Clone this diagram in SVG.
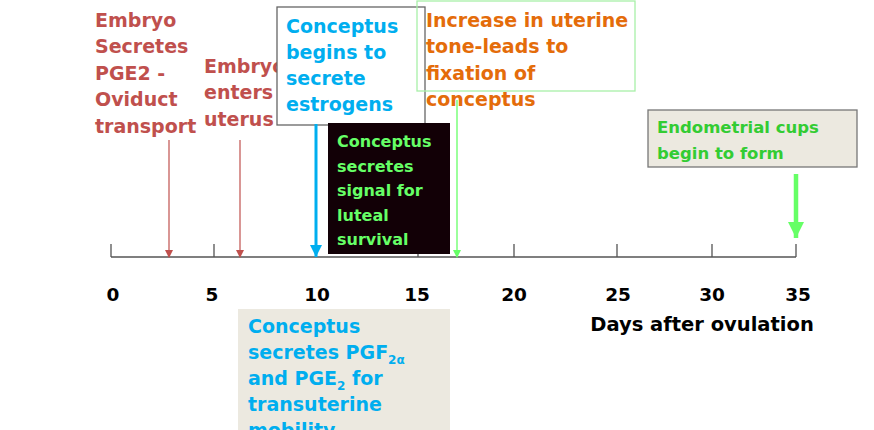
<svg xmlns="http://www.w3.org/2000/svg" width="874" height="430" viewBox="0 0 874 430">
<defs>
<style>
text{font-family:"DejaVu Sans","Liberation Sans",sans-serif;font-weight:bold}
.red{fill:#C0504D;font-size:19px}
.blue{fill:#00AEEF;font-size:19px}
.orange{fill:#E46C0A;font-size:19px}
.lgreen{fill:#66FF66;font-size:16px}
.green{fill:#33CC33;font-size:16.5px}
.num{fill:#000;font-size:18.5px;text-anchor:middle}
.axis{stroke:#555;stroke-width:1.3;fill:none}
</style>
<marker id="ar" markerWidth="8" markerHeight="8" refX="4" refY="7" markerUnits="userSpaceOnUse" viewBox="0 0 8 8"><path d="M0,0 L8,0 L4,8 Z" fill="#C0504D"/></marker>
<marker id="ab" markerWidth="12" markerHeight="12" refX="6" refY="12" markerUnits="userSpaceOnUse" viewBox="0 0 12 12"><path d="M0,0 L12,0 L6,12 Z" fill="#00AEEF"/></marker>
<marker id="ag" markerWidth="8" markerHeight="8" refX="4" refY="7" markerUnits="userSpaceOnUse" viewBox="0 0 8 8"><path d="M0,0 L8,0 L4,8 Z" fill="#66FF66"/></marker>
<marker id="agb" markerWidth="16" markerHeight="16" refX="8" refY="16" markerUnits="userSpaceOnUse" viewBox="0 0 16 16"><path d="M0,0 L16,0 L8,16 Z" fill="#66FF66"/></marker>
</defs>
<rect width="874" height="430" fill="#fff"/>

<g id="axis">
<path class="axis" d="M111,257 H796 M111,244 V257 M214,244 V257 M316,244 V257 M418,244 V257 M514,244 V257 M617,244 V257 M712,244 V257 M796,244 V257"/>
<text class="num" x="113" y="301">0</text>
<text class="num" x="212" y="301">5</text>
<text class="num" x="317" y="301">10</text>
<text class="num" x="417" y="301">15</text>
<text class="num" x="514" y="301">20</text>
<text class="num" x="618" y="301">25</text>
<text class="num" x="712" y="301">30</text>
<text class="num" x="798" y="301">35</text>
<text x="702" y="331" style="fill:#000;font-size:19.5px;text-anchor:middle">Days after ovulation</text>
</g>

<g id="embryo-pge2">
<text class="red" x="95" y="27">Embryo</text>
<text class="red" x="95" y="53">Secretes</text>
<text class="red" x="95" y="80">PGE2 -</text>
<text class="red" x="95" y="106">Oviduct</text>
<text class="red" x="95" y="133">transport</text>
</g>

<g id="embryo-enters">
<text class="red" x="204" y="73">Embryo</text>
<text class="red" x="204" y="99">enters</text>
<text class="red" x="204" y="126">uterus</text>
</g>

<g id="estrogens">
<rect x="277" y="7" width="148" height="118" fill="#fff" stroke="#666" stroke-width="1.3"/>
<text class="blue" x="286" y="33">Conceptus</text>
<text class="blue" x="286" y="59">begins to</text>
<text class="blue" x="286" y="85">secrete</text>
<text class="blue" x="286" y="111">estrogens</text>
</g>

<g id="uterine-tone">
<rect x="417" y="1" width="218" height="90" fill="none" stroke="#A8F0A8" stroke-width="1.3"/>
<text class="orange" x="426" y="27">Increase in uterine</text>
<text class="orange" x="426" y="53">tone-leads to</text>
<text class="orange" x="426" y="80">fixation of</text>
<text class="orange" x="426" y="106">conceptus</text>
</g>

<g id="connectors">
<line x1="169" y1="140" x2="169" y2="257" stroke="#C0504D" stroke-width="1.2" marker-end="url(#ar)"/>
<line x1="240" y1="140" x2="240" y2="257" stroke="#C0504D" stroke-width="1.2" marker-end="url(#ar)"/>
<line x1="316" y1="124" x2="316" y2="257" stroke="#00AEEF" stroke-width="3" marker-end="url(#ab)"/>
<line x1="457" y1="100" x2="457" y2="257" stroke="#66FF66" stroke-width="1.3" marker-end="url(#ag)"/>
<line x1="796" y1="174" x2="796" y2="238" stroke="#66FF66" stroke-width="4.5" marker-end="url(#agb)"/>
</g>

<g id="luteal">
<rect x="328" y="123" width="122" height="131" fill="#120006"/>
<text class="lgreen" x="337" y="147">Conceptus</text>
<text class="lgreen" x="337" y="172">secretes</text>
<text class="lgreen" x="337" y="196">signal for</text>
<text class="lgreen" x="337" y="221">luteal</text>
<text class="lgreen" x="337" y="245">survival</text>
</g>

<g id="endometrial">
<rect x="648" y="110" width="209" height="57" fill="#ECE9E0" stroke="#777" stroke-width="1.3"/>
<text class="green" x="657" y="133">Endometrial cups</text>
<text class="green" x="657" y="159">begin to form</text>
</g>

<g id="transuterine">
<rect x="238" y="309" width="212" height="130" fill="#ECE9E0"/>
<text class="blue" x="248" y="333">Conceptus</text>
<text class="blue" x="248" y="359">secretes PGF<tspan dy="5" font-size="12">2α</tspan></text>
<text class="blue" x="248" y="385">and PGE<tspan dy="5" font-size="12">2</tspan><tspan dy="-5"> for</tspan></text>
<text class="blue" x="248" y="411">transuterine</text>
<text class="blue" x="248" y="437">mobility</text>
</g>
</svg>
